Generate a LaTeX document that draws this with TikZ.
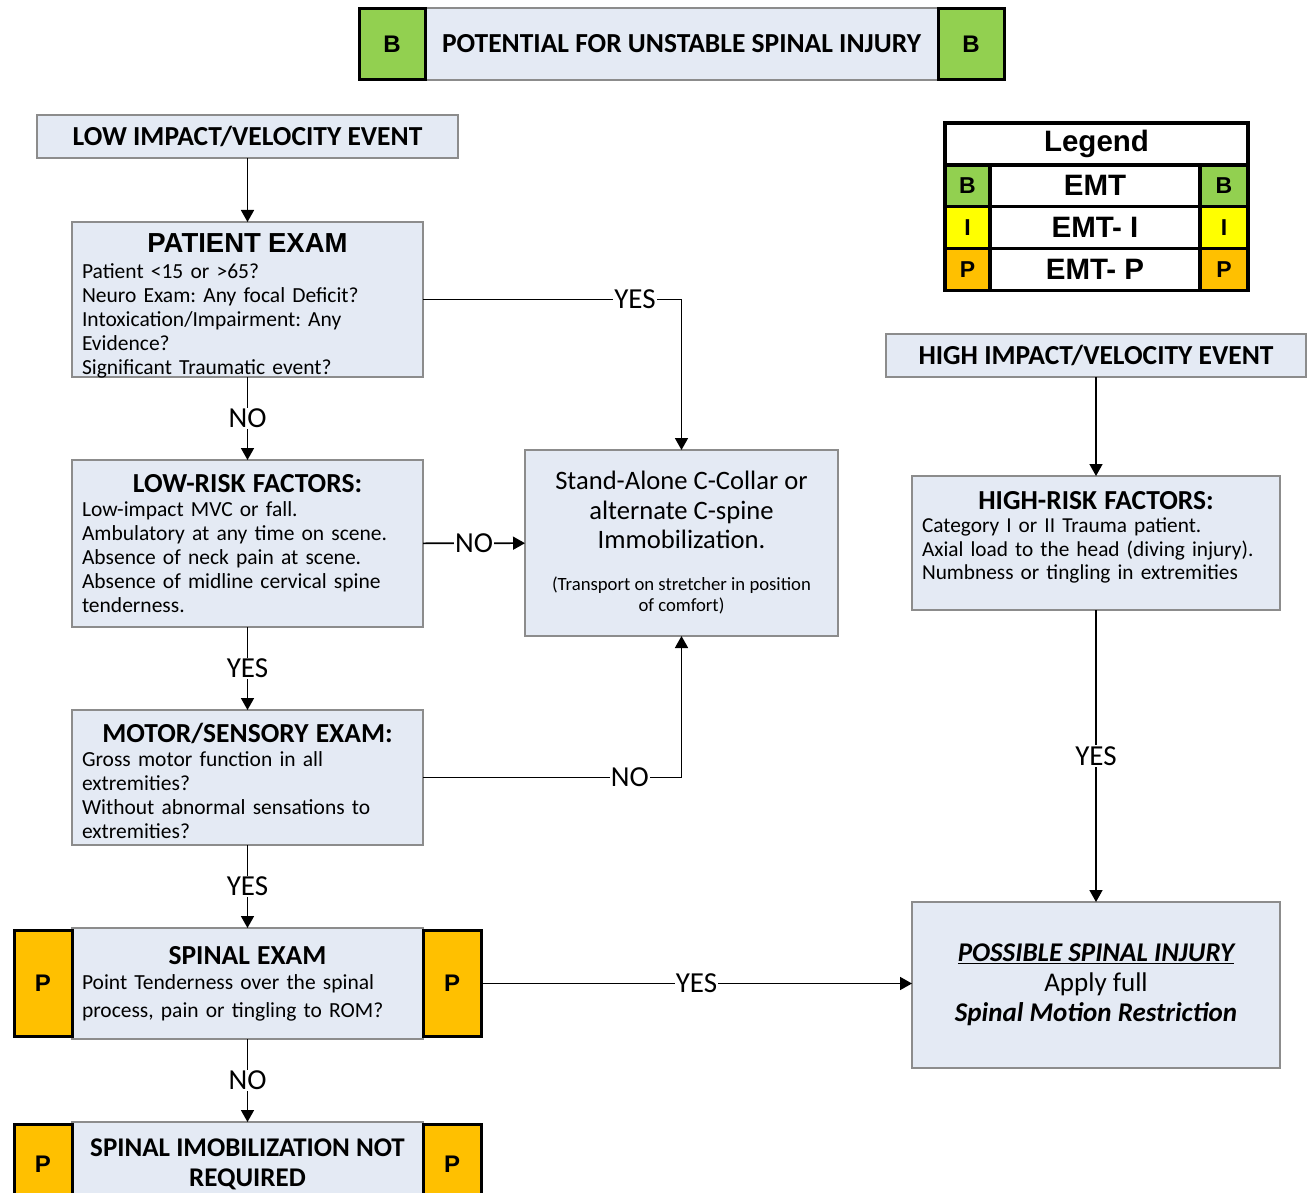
\documentclass[tikz,border=0pt]{standalone}
\usepackage{fontspec}
\setmainfont{Carlito}
\newfontfamily\arialfont{Liberation Sans}
\usepackage{xcolor}
\usetikzlibrary{positioning, arrows.meta, calc}
\frenchspacing

\definecolor{boxblue}{HTML}{E4EAF4}
\definecolor{boxgray}{HTML}{8C8C8C}
\definecolor{tagB}{HTML}{92D050}
\definecolor{tagI}{HTML}{FFFF00}
\definecolor{tagP}{HTML}{FFC000}

\newcommand{\bodysize}{\fontsize{21.5}{24}\selectfont}
\newcommand{\headsize}{\bfseries\fontsize{27.5}{30}\selectfont}
% fixed-height text block, lines hung from the top
\newcommand{\topbox}[3]{\parbox[c][#1][t]{\linewidth}{\raggedright\vspace*{#2}#3}}

\tikzset{
  flowbox/.style={draw=boxgray, fill=boxblue, line width=1.2pt, outer sep=0pt,
                  inner xsep=10pt, inner ysep=2pt, anchor=north west,
                  align=left, font=\bodysize},
  tagbox/.style={draw=black, line width=3pt, inner sep=0pt, outer sep=0pt,
                 font=\arialfont\bfseries\fontsize{24}{28}\selectfont},
  legcell/.style={draw=black, line width=3.2pt, inner sep=0pt, outer sep=0pt,
                  fill=white, anchor=north west,
                  font=\arialfont\bfseries\fontsize{29.5}{32}\selectfont},
  legtag/.style={legcell, font=\arialfont\bfseries\fontsize{23}{26}\selectfont},
  flow/.style={-{Triangle[length=12pt,width=13pt]}, line width=1.6pt},
  lbl/.style={fill=white, inner sep=1pt, font=\fontsize{29}{32}\selectfont},
}

\begin{document}
\begin{tikzpicture}[x=1pt, y=-1pt]
    \clip (0,0) rectangle (1309,1193);
    \fill[white] (0,0) rectangle (1309,1193);

    % title row
    \node (title) [flowbox, anchor=center,
                   minimum width=513pt, minimum height=72pt,
                   font=\headsize] at (681.5,44) {POTENTIAL FOR UNSTABLE SPINAL INJURY};
    \node (titleL) [tagbox, fill=tagB, minimum width=66pt, minimum height=71pt,
                    left=0pt of title] {B};
    \node (titleR) [tagbox, fill=tagB, minimum width=66pt, minimum height=71pt,
                    right=0pt of title] {B};

    % left column
    \node (lowimpact) [flowbox, anchor=center,
                       minimum width=421pt, minimum height=43pt,
                       font=\headsize] at (247.5,136.5) {LOW IMPACT/VELOCITY EVENT};

    \node (patient) [flowbox, text width=331pt, inner ysep=0pt] at (72,222)
        {\topbox{155pt}{12pt}{%
         \makebox[\linewidth]{\arialfont\bfseries\fontsize{27.5}{30}\selectfont PATIENT EXAM}\\[2pt]
         Patient <15 or >65?\\
         Neuro Exam: Any focal Deficit?\\
         Intoxication/Impairment: Any\\
         Evidence?\\
         Significant Traumatic event?}};

    \node (lowrisk) [flowbox, text width=331pt, minimum height=167pt] at (72,460)
        {\makebox[\linewidth]{\headsize LOW-RISK FACTORS:}\\
         Low-impact MVC or fall.\\
         Ambulatory at any time on scene.\\
         Absence of neck pain at scene.\\
         Absence of midline cervical spine\\
         tenderness.};

    \node (motor) [flowbox, text width=331pt, inner ysep=0pt] at (72,710)
        {\topbox{135pt}{13pt}{%
         \makebox[\linewidth]{\headsize MOTOR/SENSORY EXAM:}\\
         Gross motor function in all\\
         extremities?\\
         Without abnormal sensations to\\
         extremities?}};

    \node (spinal) [flowbox, text width=331pt, minimum height=111pt,
                    font=\fontsize{21.5}{28}\selectfont] at (72,928)
        {\makebox[\linewidth]{\headsize SPINAL EXAM}\\[-3pt]
         Point Tenderness over the spinal\\
         process, pain or tingling to ROM?};
    \node (spinalL) [tagbox, fill=tagP, minimum width=58pt, minimum height=106pt,
                     left=0pt of spinal] {P};
    \node (spinalR) [tagbox, fill=tagP, minimum width=58pt, minimum height=106pt,
                     right=0pt of spinal] {P};

    \node (final) [flowbox, text width=331pt, minimum height=85pt, align=flush center,
                   font=\bfseries\fontsize{27}{30}\selectfont] at (72,1122)
        {SPINAL IMOBILIZATION NOT\\ REQUIRED};
    \node (finalL) [tagbox, fill=tagP, minimum width=58pt, minimum height=80pt,
                    left=0pt of final] {P};
    \node (finalR) [tagbox, fill=tagP, minimum width=58pt, minimum height=80pt,
                    right=0pt of final] {P};

    % middle column
    \node (collar) [flowbox, text width=293pt, minimum height=186pt, align=flush center,
                    font=\fontsize{26.6}{29.5}\selectfont] at (525,450)
        {Stand-Alone C-Collar or\\
         alternate C-spine\\
         Immobilization.\par\vspace{21pt}
         {\fontsize{18.7}{21}\selectfont (Transport on stretcher in position\\ of comfort)\par}\vspace{4pt}};

    % right column
    \node (legend) [legcell, minimum width=303pt, minimum height=42pt] at (945,123) {Legend};
    \foreach \r/\tag/\role/\col in {1/B/EMT/tagB, 2/I/EMT- I/tagI, 3/P/EMT- P/tagP} {
        \node (leg-l-\r) [legtag, fill=\col, minimum width=45pt, minimum height=41.7pt]
            at ($(legend.south west)+(0,{(\r-1)*41.7})$) {\tag};
        \node (leg-m-\r) [legcell, minimum width=210pt, minimum height=41.7pt]
            at ($(leg-l-\r.north east)$) {\role};
        \node (leg-r-\r) [legtag, fill=\col, minimum width=48pt, minimum height=41.7pt]
            at ($(leg-m-\r.north east)$) {\tag};
    }

    \node (highimpact) [flowbox, anchor=center,
                        minimum width=420pt, minimum height=43pt,
                        font=\headsize] at (1096,355.5) {HIGH IMPACT/VELOCITY EVENT};

    \node (highrisk) [flowbox, text width=348pt, inner ysep=0pt,
                      font=\fontsize{21.3}{23.5}\selectfont] at (912,476)
        {\topbox{134pt}{15pt}{%
         \makebox[\linewidth]{\headsize HIGH-RISK FACTORS:}\\
         Category I or II Trauma patient.\\
         Axial load to the head (diving injury).\\
         Numbness or tingling in extremities}};

    \node (possible) [flowbox, text width=348pt, minimum height=166pt, align=flush center,
                      font=\fontsize{27}{30}\selectfont] at (912,902)
        {{\bfseries\itshape\underline{POSSIBLE SPINAL INJURY}}\\
         Apply full\\
         {\bfseries\itshape Spinal Motion Restriction}};

    % connectors
    \draw[flow] (lowimpact) -- (patient);
    \draw[flow] (patient) -- node[lbl] {NO} (lowrisk);
    \draw[flow] (patient.east) -| node[lbl, pos=0.41] {YES} (collar.north);
    \draw[flow] (lowrisk) -- node[lbl] {NO} (collar);
    \draw[flow] (lowrisk) -- node[lbl] {YES} (motor);
    \draw[flow] (motor.east) -| node[lbl, pos=0.4] {NO} (collar.south);
    \draw[flow] (motor) -- node[lbl] {YES} (spinal);
    \draw[flow] (spinal) -- node[lbl] {NO} (final);
    \draw[flow] (spinalR.east) -- node[lbl] {YES} (spinalR.east -| possible.west);
    \draw[flow] (highimpact) -- (highrisk);
    \draw[flow] (highrisk) -- node[lbl] {YES} (possible);
\end{tikzpicture}
\end{document}
